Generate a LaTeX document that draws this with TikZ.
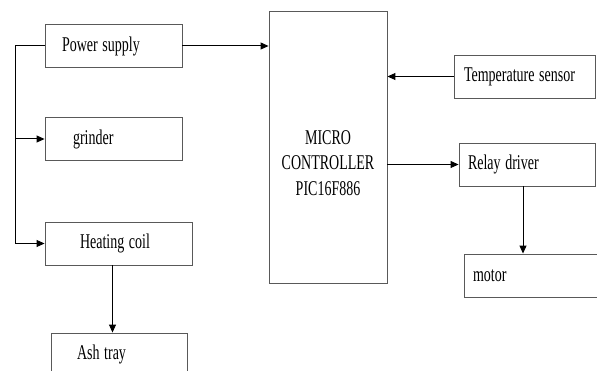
\documentclass[tikz,border=0pt]{standalone}
\usepackage{fontspec}
\usepackage{graphicx}
\setmainfont{Liberation Serif}
\usetikzlibrary{arrows.meta}
\newcommand{\tall}[1]{\scalebox{1}[1.5]{#1}}
\tikzset{
  blk/.style={draw=black!65, line width=0.9pt, minimum height=43pt, align=left,
    font=\fontsize{14}{16}\selectfont},
  arr/.style={-{Triangle[length=8pt,width=7pt]}, line width=1pt},
  ln/.style={line width=1pt}
}
\begin{document}
\begin{tikzpicture}[x=1pt,y=-1pt]
            \useasboundingbox (0,0) rectangle (597,371);
            \clip (0,0) rectangle (597,371);

            \node (ps) at (113.5,46) [blk, inner xsep=17pt, text width=103pt] {\tall{Power supply}};
            \node (gr) at (113.5,139) [blk, inner xsep=28pt, text width=81pt] {\tall{grinder}};
            \node (hc) at (118.5,243.5) [blk, inner xsep=35pt, text width=77pt] {\tall{Heating coil}};
            \node (at) at (119,354.5) [blk, inner xsep=26pt, text width=84pt] {\tall{Ash tray}};

            \node (mc) at (328,147) [blk, minimum width=118pt, minimum height=272pt, align=center]
              {\raisebox{-18pt}[\height][\depth]{\tall{\begin{tabular}{@{}c@{}}MICRO\\[1pt]CONTROLLER\\[1pt]PIC16F886\end{tabular}}}};

            \node (ts) at (524.5,76.5) [blk, inner xsep=10pt, text width=121pt] {\tall{Temperature sensor}};
            \node (rd) at (527,164.5) [blk, inner xsep=9pt, text width=118pt] {\tall{Relay driver}};
            \node (mo) at (532,275.5) [blk, inner xsep=9pt, text width=118pt] {\tall{motor}};

            \coordinate (bus) at (15,0);
            \draw[ln] (ps.west) -- (ps.west -| bus) -- (hc.west -| bus);
            \draw[arr] (gr.west -| bus) -- (gr.west);
            \draw[arr] (hc.west -| bus) -- (hc.west);
            \draw[arr] ([xshift=-6pt]hc.south) -- ([xshift=-6pt]hc.south |- at.north);

            \draw[arr] (ps.east) -- (ps.east -| mc.west);
            \draw[arr] (ts.west) -- (ts.west -| mc.east);
            \draw[arr] (mc.east |- rd.west) -- (rd.west);
            \draw[arr] ([xshift=-4pt]rd.south) -- ([xshift=-4pt]rd.south |- mo.north);
        \end{tikzpicture}
\end{document}
